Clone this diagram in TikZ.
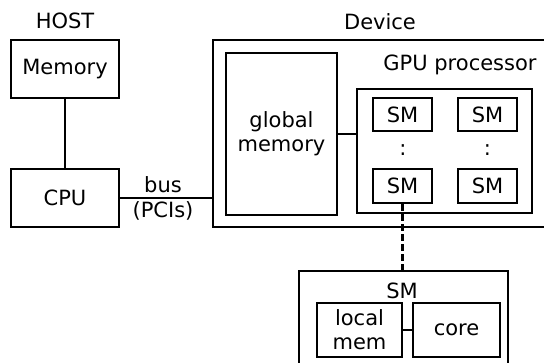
\documentclass[tikz,border=0pt]{standalone}
\usepackage{fontspec}
\setmainfont{DejaVu Sans}
\begin{document}
\begin{tikzpicture}[x=1pt,y=-1pt,
  box/.style={draw, line width=2.5pt, inner sep=0pt, font=\fontsize{21}{24}\selectfont, align=center},
  lbl/.style={inner sep=0pt, font=\fontsize{21}{24}\selectfont},
  conn/.style={line width=2.5pt}]
\useasboundingbox (0,0) rectangle (544,363);
\clip (0,0) rectangle (544,363);
% host
\node[lbl] (host) at (65,21) {HOST};
\node[box, minimum width=108pt, minimum height=58pt] (mem) at (65,69) {Memory};
\node[box, minimum width=108pt, minimum height=58pt] (cpu) at (65,198) {CPU};
% device
\node[lbl] (devlbl) at (380,22) {Device};
\node[box, minimum width=347pt, minimum height=187pt] (dev) at (386.5,133.5) {};
\node[box, minimum width=111pt, minimum height=162pt] (gmem) at (281.5,134) {global\\memory};
\node[lbl] (gpulbl) at (460,65) {GPU processor};
\node[box, minimum width=175pt, minimum height=124pt] (gpu) at (444.5,151) {};
\node[box, minimum width=59pt, minimum height=33pt] (smtl) at (402.5,114.5) {SM};
\node[box, minimum width=59pt, minimum height=33pt] (smtr) at (487.5,114.5) {SM};
\node[box, minimum width=59pt, minimum height=34pt] (smbl) at (402.5,186) {SM};
\node[box, minimum width=59pt, minimum height=34pt] (smbr) at (487.5,186) {SM};
\node[lbl] (dotl) at (403,150) {:};
\node[lbl] (dotr) at (487.5,150) {:};
% SM detail
\node[box, minimum width=209pt, minimum height=109pt] (bigsm) at (403.5,325.5) {};
\node[lbl] (smlbl) at (402,291) {SM};
\node[box, minimum width=85pt, minimum height=54pt] (lmem) at (359.5,330) {\fontsize{21}{25}\selectfont local\\mem};
\node[box, minimum width=87pt, minimum height=54pt] (core) at (456.5,330) {core};
% bus labels
\node[lbl] (bus) at (163,185) {bus};
\node[lbl] (pci) at (163,211) {(PCIs)};
% connectors
\draw[conn] (mem.south) -- (cpu.north);
\draw[conn] (cpu.east) -- (cpu.east -| dev.west);
\draw[conn] (gmem.east) -- (gmem.east -| gpu.west);
\draw[conn, dash pattern=on 7pt off 3pt] (smbl.south) -- (smbl.south |- bigsm.north);
\draw[conn] (lmem.east) -- (core.west);
\end{tikzpicture}
\end{document}
